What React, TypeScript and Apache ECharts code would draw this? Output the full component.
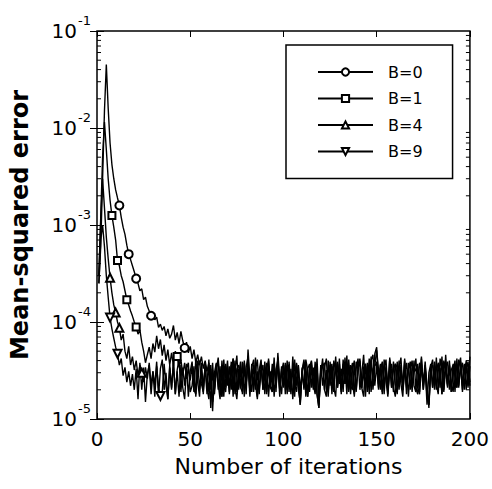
import React, { useEffect, useRef } from "react";
import * as echarts from "echarts";

// Mean-squared error values, in units of 1e-5, for iterations 1..200
const UNIT = 1e-5;

const SERIES_NAMES = ["B=0", "B=1", "B=4", "B=9"];
const X_TICKS = [0, 50, 100, 150, 200];
const Y_MIN = 1e-5;
const Y_MAX = 1e-1;
const MINOR_MULTIPLIERS = [2, 3, 4, 5, 6, 7, 8, 9];
const DECADES = [1e-5, 1e-4, 1e-3, 1e-2];

const ITERATIONS = Array.from({ length: 200 }, (_, i) => i + 1);

const MSE_B0 = [
  25, 60, 300, 1500, 4500, 1600, 700, 420, 300, 230,
  190, 159, 120, 95, 80, 62, 50, 44, 38, 33,
  28, 25, 21, 22, 17, 18, 14.5, 13, 11.6, 12.5,
  10.5, 11.2, 8.8, 9.5, 8.2, 9.0, 7.2, 8.5, 6.8, 7.5,
  9.2, 6.5, 7.8, 6.0, 8.0, 6.4, 5.4, 6.2, 4.8, 5.6,
  4.2, 5.2, 3.8, 4.6, 3.6, 4.4, 3.3, 4.0, 3.1, 3.8,
  2.0, 3.8, 1.8, 3.2, 4.3, 2.3, 1.7, 3.5, 2.6, 4.0,
  1.9, 3.0, 4.2, 2.1, 1.6, 2.9, 3.9, 2.2, 3.4, 1.8,
  5.2, 2.6, 1.9, 3.6, 2.3, 1.6, 3.2, 4.1, 2.0, 2.8,
  3.8, 1.7, 3.1, 2.2, 4.3, 1.9, 4.8, 2.5, 1.8, 3.5,
  2.3, 4.0, 1.9, 3.3, 1.6, 2.8, 3.7, 2.0, 1.5, 3.2,
  4.1, 2.1, 1.7, 3.0, 3.9, 2.3, 1.8, 3.5, 1.4, 2.9,
  4.2, 2.0, 3.2, 1.7, 3.9, 2.5, 1.9, 4.4, 2.2, 3.3,
  1.8, 3.7, 2.3, 4.5, 1.9, 3.0, 3.8, 1.7, 3.3, 4.2,
  2.0, 2.9, 4.6, 2.1, 3.5, 1.8, 4.0, 2.6, 4.7, 5.5,
  2.3, 3.7, 1.9, 4.1, 2.5, 1.7, 3.5, 2.1, 3.9, 2.3,
  1.8, 3.3, 4.3, 2.0, 3.0, 3.8, 1.7, 3.2, 4.0, 2.2,
  1.9, 3.5, 2.4, 4.4, 2.0, 3.4, 1.4, 3.0, 3.7, 2.1,
  3.9, 2.3, 1.8, 4.2, 3.2, 2.0, 4.6, 2.3, 3.5, 1.9,
  3.1, 4.0, 2.1, 3.4, 4.3, 1.9, 3.2, 3.8, 2.2, 3.5,
];

const MSE_B1 = [
  30, 120, 500, 1150, 600, 300, 180, 125, 95, 70,
  43, 38, 30, 26, 21, 17, 15, 13, 11.5, 10,
  8.9, 7.5, 8.3, 6.2, 5.0, 3.8, 4.6, 5.5, 4.2, 6.0,
  4.9, 7.2, 5.3, 6.6, 4.5, 5.8, 4.0, 5.2, 3.6, 4.8,
  3.5, 5.0, 4.4, 3.4, 4.1, 2.9, 3.8, 2.6, 3.3, 2.5,
  3.5, 1.9, 4.2, 2.4, 1.7, 3.8, 2.1, 3.4, 1.8, 4.1,
  1.3, 3.2, 2.0, 3.7, 2.3, 1.6, 4.0, 2.2, 1.9, 3.5,
  2.1, 3.9, 1.7, 3.1, 4.5, 2.0, 3.4, 1.8, 3.8, 2.3,
  4.0, 1.9, 3.3, 2.2, 4.3, 1.7, 3.1, 3.7, 2.0, 3.4,
  1.8, 4.2, 2.3, 1.9, 3.6, 2.1, 3.9, 1.7, 3.3, 2.2,
  3.8, 2.0, 3.4, 1.8, 4.4, 2.3, 1.9, 3.6, 1.4, 3.1,
  2.1, 3.7, 1.7, 3.3, 4.0, 2.0, 3.1, 1.8, 1.3, 3.6,
  2.2, 3.4, 4.2, 1.9, 3.2, 3.7, 2.1, 1.7, 3.9, 2.3,
  3.3, 1.9, 4.3, 2.2, 3.6, 1.8, 3.2, 4.0, 2.0, 3.4,
  3.8, 2.1, 1.7, 3.7, 2.3, 4.2, 1.9, 3.3, 3.6, 5.1,
  3.2, 2.0, 3.9, 2.2, 3.4, 1.8, 4.3, 2.1, 3.3, 3.7,
  1.9, 4.0, 2.3, 1.7, 3.6, 2.2, 3.8, 2.0, 3.4, 3.1,
  4.2, 2.1, 1.8, 3.7, 2.3, 3.9, 1.9, 1.4, 3.3, 3.6,
  2.2, 4.3, 2.0, 3.4, 1.8, 3.8, 3.2, 2.1, 4.0, 2.3,
  1.9, 3.6, 3.3, 2.1, 3.9, 2.2, 3.7, 2.0, 3.4, 2.4,
];

const MSE_B4 = [
  30, 110, 300, 150, 75, 45, 28.6, 20, 15, 12.5,
  10, 8.7, 6.5, 7.5, 5.0, 4.2, 5.6, 3.6, 4.4, 3.2,
  4.0, 2.8, 3.6, 3.0, 2.4, 3.4, 2.6, 3.8, 2.2, 3.1,
  2.2, 3.9, 1.7, 3.3, 4.1, 2.0, 3.0, 1.6, 3.6, 2.1,
  3.8, 1.8, 3.2, 4.2, 1.9, 3.4, 2.2, 3.7, 1.7, 3.1,
  3.9, 2.0, 1.8, 3.5, 4.0, 2.3, 1.9, 3.6, 2.1, 1.6,
  3.3, 1.2, 3.0, 3.8, 2.0, 3.5, 1.7, 4.1, 2.1, 3.2,
  1.8, 3.6, 2.2, 4.0, 1.9, 3.3, 2.1, 3.9, 1.7, 3.4,
  4.4, 2.0, 3.7, 1.9, 3.2, 4.1, 2.0, 3.0, 3.6, 1.8,
  3.3, 4.0, 2.1, 1.9, 3.7, 2.2, 4.3, 2.0, 3.5, 2.1,
  3.6, 1.8, 3.9, 2.2, 3.3, 1.7, 3.8, 2.3, 1.4, 3.4,
  2.0, 4.1, 3.2, 1.9, 3.6, 2.1, 3.9, 1.8, 1.3, 3.3,
  3.7, 2.0, 1.7, 4.0, 2.2, 3.5, 1.9, 3.8, 2.1, 4.2,
  2.0, 3.3, 3.6, 1.8, 4.1, 2.2, 2.0, 3.7, 1.9, 3.4,
  4.0, 2.1, 3.2, 1.7, 3.8, 2.2, 4.4, 2.0, 3.5, 3.9,
  2.1, 3.6, 1.8, 3.3, 4.1, 1.9, 3.2, 3.7, 2.1, 1.7,
  3.9, 2.2, 3.4, 2.0, 4.2, 2.1, 3.3, 3.6, 1.9, 4.0,
  2.1, 1.8, 3.8, 3.2, 2.0, 3.6, 2.2, 1.3, 3.4, 4.1,
  2.0, 3.3, 3.7, 2.1, 4.4, 1.9, 3.4, 3.9, 2.0, 3.2,
  3.6, 1.9, 4.2, 2.2, 3.3, 3.8, 2.0, 4.0, 2.1, 4.4,
];

const MSE_B9 = [
  25, 70, 100, 60, 30, 18, 11.1, 8.5, 6.8, 5.5,
  4.7, 3.6, 4.2, 2.8, 3.4, 2.4, 3.1, 2.2, 2.9, 2.0,
  3.3, 1.6, 3.8, 2.0, 3.4, 1.5, 2.9, 3.6, 1.8, 3.1,
  1.7, 3.5, 2.1, 1.73, 1.9, 3.7, 2.2, 1.6, 3.4, 2.0,
  3.9, 1.8, 3.1, 1.7, 3.6, 2.1, 1.6, 3.3, 3.8, 1.9,
  2.2, 3.5, 1.7, 4.0, 2.0, 3.2, 1.8, 3.7, 3.1, 1.9,
  3.6, 1.5, 2.1, 3.4, 3.9, 1.9, 3.1, 1.7, 3.7, 2.2,
  3.5, 2.0, 4.2, 1.8, 3.3, 3.6, 2.1, 1.9, 4.0, 2.3,
  3.8, 1.7, 3.4, 4.1, 2.0, 3.1, 1.8, 3.6, 2.2, 3.9,
  1.9, 3.5, 2.1, 3.7, 1.7, 3.2, 4.0, 2.0, 3.1, 3.8,
  1.8, 3.4, 3.6, 2.1, 1.9, 4.1, 2.2, 3.5, 2.0, 3.0,
  3.9, 1.7, 3.3, 3.7, 2.1, 3.4, 1.9, 4.2, 1.6, 3.1,
  3.5, 3.8, 2.0, 2.2, 3.6, 1.8, 4.0, 3.2, 2.1, 3.7,
  1.9, 4.1, 2.3, 3.5, 2.0, 3.6, 2.2, 1.8, 3.9, 3.3,
  4.2, 2.1, 3.4, 3.7, 1.9, 3.1, 4.0, 4.6, 2.2, 3.6,
  2.0, 3.3, 3.8, 1.8, 3.5, 2.1, 4.1, 3.1, 1.9, 3.7,
  3.4, 2.0, 3.6, 2.2, 4.0, 1.8, 3.2, 3.9, 2.1, 3.5,
  3.1, 3.7, 1.9, 4.2, 2.2, 3.4, 1.7, 1.4, 3.6, 2.1,
  3.5, 2.0, 3.8, 3.1, 1.8, 4.0, 3.3, 2.2, 3.6, 1.9,
  3.7, 3.1, 2.1, 4.1, 3.4, 2.0, 3.6, 3.2, 3.9, 2.2,
];

// iterations where each curve carries a marker
const MARKERS_B0 = [12, 17, 21, 29, 47];
const MARKERS_B1 = [8, 11, 16, 21, 43];
const MARKERS_B4 = [7, 10, 12, 24];
const MARKERS_B9 = [7, 11, 34];

const FONT = "DejaVu Sans";

function buildData(values: number[], markers: number[]) {
  return ITERATIONS.map((it, i) => {
    const item: any = { value: [it, values[i] * UNIT] };
    if (!markers.includes(it)) item.symbol = "none";
    return item;
  });
}

export default function App() {
  const ref = useRef<HTMLDivElement>(null);

  useEffect(() => {
    if (!ref.current) return;
    const chart = echarts.init(ref.current, undefined, { renderer: "svg" });

    const minorTicks: number[][] = [];
    DECADES.forEach((d) => MINOR_MULTIPLIERS.forEach((m) => minorTicks.push([0, d * m])));

    const lineSeries = (name: string, values: number[], markers: number[], symbol: string, size: number, rotate = 0) => ({
      type: "line",
      name,
      data: buildData(values, markers),
      symbol,
      symbolSize: size,
      symbolRotate: rotate,
      showSymbol: true,
      showAllSymbol: true,
      lineStyle: { color: "#000", width: 1.4 },
      itemStyle: { color: "#000", borderColor: "#000", borderWidth: 1.4 },
      emphasis: { disabled: true },
      z: 3,
    });

    const option: any = {
      animation: false,
      backgroundColor: "#fff",
      grid: { left: 97, right: 20, top: 31, bottom: 70, show: true, borderColor: "#000", borderWidth: 1.5, backgroundColor: "transparent" },
      legend: {
        orient: "vertical",
        left: 286,
        top: 45,
        data: SERIES_NAMES,
        backgroundColor: "#fff",
        borderColor: "#000",
        borderWidth: 1.5,
        borderRadius: 0,
        padding: [19, 30, 19, 31],
        itemWidth: 55,
        itemHeight: 9,
        itemGap: 10.5,
        selectedMode: false,
        textStyle: { fontFamily: FONT, fontSize: 16, color: "#000", lineHeight: 14, padding: [0, 0, 0, 10] },
      },
      xAxis: [
        {
          type: "value",
          min: 0,
          max: 200,
          interval: 50,
          name: "Number of iterations",
          nameLocation: "middle",
          nameGap: 36,
          nameTextStyle: { fontFamily: FONT, fontSize: 22, color: "#000", padding: [0, 0, 0, 10] },
          axisLine: { show: false },
          splitLine: { show: false },
          axisTick: { inside: true, length: 6, lineStyle: { color: "#000", width: 1 } },
          axisLabel: { margin: 10, fontFamily: FONT, fontSize: 20, color: "#000", customValues: X_TICKS },
        },
        {
          type: "value",
          position: "top",
          min: 0,
          max: 200,
          interval: 50,
          axisLine: { show: false },
          splitLine: { show: false },
          axisTick: { inside: true, length: 6, lineStyle: { color: "#000", width: 1 } },
          axisLabel: { show: false },
        },
      ],
      yAxis: [
        {
          type: "log",
          logBase: 10,
          min: Y_MIN,
          max: Y_MAX,
          name: "Mean-squared error",
          nameLocation: "middle",
          nameGap: 65,
          nameTextStyle: { fontFamily: FONT, fontWeight: "bold", fontSize: 24, color: "#000" },
          axisLine: { show: false },
          splitLine: { show: false },
          axisTick: { inside: true, length: 7, lineStyle: { color: "#000", width: 1 } },
          axisLabel: {
            margin: 6,
            formatter: (v: number) => `{b|10}{e|${Math.round(Math.log10(v))}}`,
            rich: {
              b: { fontFamily: FONT, fontSize: 20, color: "#000", lineHeight: 20 },
              e: { fontFamily: FONT, fontSize: 13, color: "#000", lineHeight: 13, padding: [0, 0, 22, 1] },
            },
          },
        },
        {
          type: "log",
          logBase: 10,
          min: Y_MIN,
          max: Y_MAX,
          position: "right",
          axisLine: { show: false },
          splitLine: { show: false },
          axisTick: { inside: true, length: 7, lineStyle: { color: "#000", width: 1 } },
          axisLabel: { show: false },
        },
      ],
      series: [
        lineSeries(SERIES_NAMES[0], MSE_B0, MARKERS_B0, "emptyCircle", 8),
        lineSeries(SERIES_NAMES[1], MSE_B1, MARKERS_B1, "emptyRect", 7),
        lineSeries(SERIES_NAMES[2], MSE_B4, MARKERS_B4, "emptyTriangle", 8),
        lineSeries(SERIES_NAMES[3], MSE_B9, MARKERS_B9, "emptyTriangle", 8, 180),
        {
          type: "custom",
          name: "minor",
          silent: true,
          data: minorTicks,
          encode: { x: 0, y: 1 },
          z: 4,
          renderItem: (params: any, api: any) => {
            const p = api.coord([0, api.value(1)]);
            const cs = params.coordSys;
            return {
              type: "group",
              children: [
                { type: "line", shape: { x1: cs.x, y1: p[1], x2: cs.x + 4, y2: p[1] }, style: { stroke: "#000", lineWidth: 1 } },
                { type: "line", shape: { x1: cs.x + cs.width - 4, y1: p[1], x2: cs.x + cs.width, y2: p[1] }, style: { stroke: "#000", lineWidth: 1 } },
              ],
            };
          },
        },
      ],
    };

    chart.setOption(option);
    return () => chart.dispose();
  }, []);

  return <div ref={ref} style={{ position: "fixed", left: 0, top: 0, width: 492, height: 489, background: "#fff" }} />;
}
